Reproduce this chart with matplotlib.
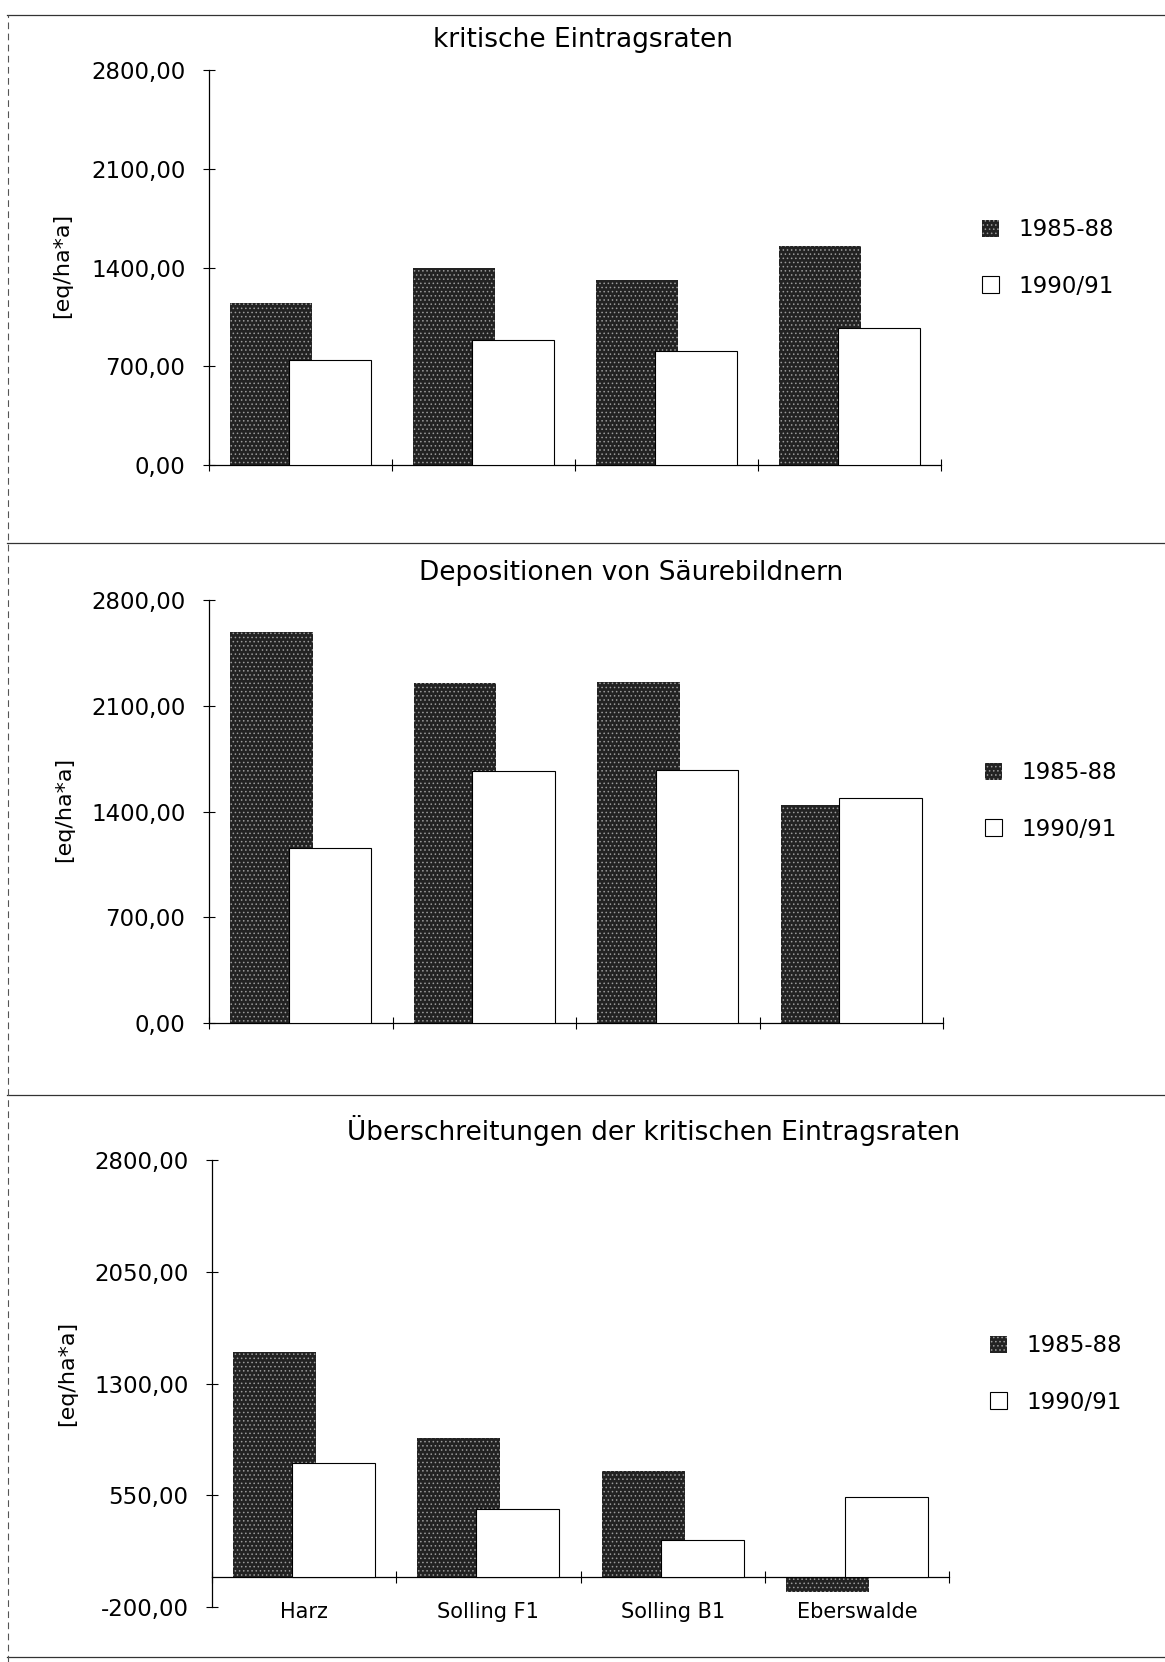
import matplotlib
matplotlib.use('Agg')
import matplotlib.pyplot as plt
import matplotlib.transforms as mtransforms
from matplotlib.lines import Line2D
import numpy as np

plt.rcParams['font.family'] = ['DejaVu Sans']
plt.rcParams['hatch.linewidth'] = 0.6

sites = ['Harz', 'Solling F1', 'Solling B1', 'Eberswalde']
series_names = ['1985-88', '1990/91']

# kritische Eintragsraten [eq/ha*a]
critical_8588 = [1150, 1395, 1310, 1555]
critical_9091 = [745, 885, 810, 970]

# Depositionen von Saeurebildnern
deposition_8588 = [2590, 2250, 2255, 1440]
deposition_9091 = [1160, 1670, 1675, 1490]

# Ueberschreitungen der kritischen Eintragsraten
exceed_8588 = [1510, 935, 715, -100]
exceed_9091 = [765, 460, 250, 540]

titles = ['kritische Eintragsraten',
          'Depositionen von Säurebildnern',
          'Überschreitungen der kritischen Eintragsraten']
yticks_1 = [0, 700, 1400, 2100, 2800]
yticks_2 = [0, 700, 1400, 2100, 2800]
yticks_3 = [-200, 550, 1300, 2050, 2800]
ylabel = '[eq/ha*a]'

W, H = 1165, 1662


def fmt(v):
    return f'{v:.2f}'.replace('.', ',')


def draw_panel(fig, rect, dark, light, yticks, title, title_xy, legend_xy,
               ylabel_xy, show_sites):
    ax = fig.add_axes(rect)
    x = np.arange(len(sites))
    w = 0.45
    off = 0.16
    b1 = ax.bar(x - off, dark, w, color='#222222', edgecolor='#9a9a9a',
                hatch='....', linewidth=0, zorder=2, label=series_names[0])
    b2 = ax.bar(x + off, light, w, color='white', edgecolor='black',
                linewidth=0.8, zorder=3, label=series_names[1])

    ax.set_xlim(-0.5, len(sites) - 0.5)
    ax.set_ylim(yticks[0], yticks[-1])
    ax.set_yticks(yticks)
    ax.set_yticklabels([fmt(v) for v in yticks], fontsize=16.5)
    ax.set_xticks(np.arange(len(sites) + 1) - 0.5)
    ax.set_xticklabels([])
    ax.tick_params(axis='y', direction='inout', length=8, width=0.8, pad=13)
    ax.tick_params(axis='x', direction='inout', length=8, width=0.8)

    for s in ['top', 'right']:
        ax.spines[s].set_visible(False)
    ax.spines['bottom'].set_position(('data', 0))
    ax.spines['left'].set_linewidth(0.9)
    ax.spines['bottom'].set_linewidth(0.9)

    if show_sites:
        trans = mtransforms.blended_transform_factory(ax.transData, ax.transAxes)
        for i, s in enumerate(sites):
            ax.text(i, -0.012, s, transform=trans, ha='center', va='center',
                    fontsize=15)

    fig.text(title_xy[0], title_xy[1], title, ha='center', va='center',
             fontsize=19)
    fig.text(ylabel_xy[0], ylabel_xy[1], ylabel, ha='center', va='center',
             rotation=90, fontsize=16)
    ax.legend(handles=[b1, b2], loc='center left', bbox_to_anchor=legend_xy,
              bbox_transform=fig.transFigure, frameon=False, fontsize=16.5,
              handlelength=0.75, handleheight=0.75, handletextpad=0.85,
              labelspacing=1.45, borderpad=0, borderaxespad=0)
    return ax


fig = plt.figure(figsize=(W / 100, H / 100), dpi=100)

draw_panel(fig, [209 / W, 1 - 465 / H, 732 / W, 395 / H],
           critical_8588, critical_9091, yticks_1, titles[0],
           (583 / W, 1 - 40 / H), (982 / W, 1 - 258 / H),
           (62 / W, 1 - 265 / H), False)
draw_panel(fig, [209 / W, 1 - 1023 / H, 734 / W, 423 / H],
           deposition_8588, deposition_9091, yticks_2, titles[1],
           (631 / W, 1 - 573 / H), (985 / W, 1 - 801 / H),
           (64 / W, 1 - 809 / H), False)
draw_panel(fig, [212 / W, 1 - 1607 / H, 737 / W, 447 / H],
           exceed_8588, exceed_9091, yticks_3, titles[2],
           (654 / W, 1 - 1130 / H), (990 / W, 1 - 1374 / H),
           (67 / W, 1 - 1373 / H), True)

# panel frame lines of the scanned page
for yy in [15, 543, 1095, 1657]:
    fig.add_artist(Line2D([0.006, 1.0], [1 - yy / H, 1 - yy / H],
                          color='#333333', linewidth=0.9,
                          transform=fig.transFigure))
fig.add_artist(Line2D([0.007, 0.007], [0.0, 1 - 15 / H], color='#555555',
                      linewidth=0.8, linestyle=(0, (6, 4)),
                      transform=fig.transFigure))

fig.savefig('out.png', dpi=100)
